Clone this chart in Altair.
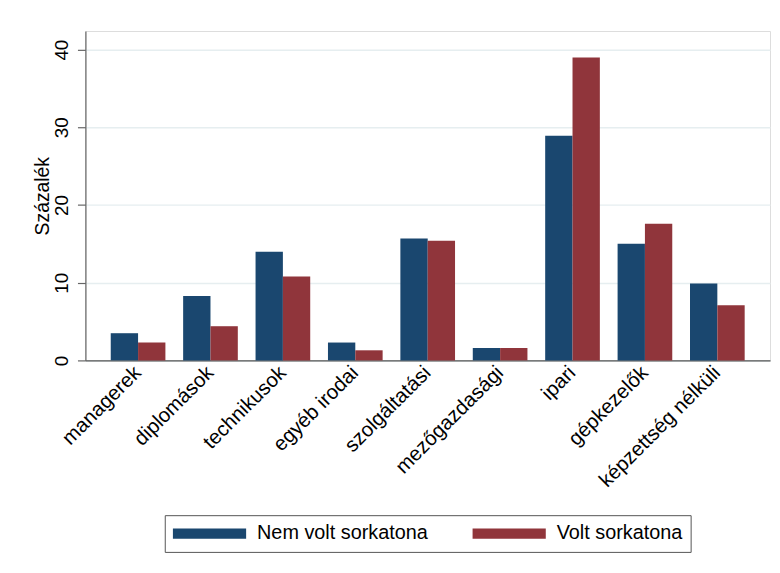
import altair as alt
import pandas as pd

categories = ["managerek", "diplomások", "technikusok", "egyéb irodai", "szolgáltatási",
              "mezőgazdasági", "ipari", "gépkezelők", "képzettség nélküli"]
groups = ["Nem volt sorkatona", "Volt sorkatona"]
nem_volt = [3.5, 8.3, 14.0, 2.3, 15.7, 1.6, 28.9, 15.0, 9.9]
volt = [2.3, 4.4, 10.8, 1.3, 15.4, 1.6, 39.0, 17.6, 7.1]
colors = ["#1a476f", "#90353b"]

rows = []
for c, a, b in zip(categories, nem_volt, volt):
    rows.append({"cat": c, "grp": groups[0], "val": a})
    rows.append({"cat": c, "grp": groups[1], "val": b})
df = pd.DataFrame(rows)

FONT = "Liberation Sans"

chart = alt.Chart(df).mark_bar().encode(
    x=alt.X("cat:N", sort=categories,
            scale=alt.Scale(paddingInner=0.245, paddingOuter=0.35),
            axis=alt.Axis(title=None, labelAngle=-45, labelAlign="right", labelBaseline="middle",
                          labelFontSize=20.5, labelFont=FONT, labelColor="#000", labelPadding=9,
                          labelLimit=400,
                          ticks=False, domainColor="#555", domainWidth=1.2, grid=False)),
    xOffset=alt.XOffset("grp:N", sort=groups, scale=alt.Scale(paddingInner=0, paddingOuter=0)),
    y=alt.Y("val:Q", scale=alt.Scale(domain=[0, 42.4], nice=False),
            axis=alt.Axis(title="Százalék", values=[0, 10, 20, 30, 40], labelAngle=270,
                          labelAlign="center", labelBaseline="bottom",
                          labelFontSize=19, labelFont=FONT, labelColor="#000", labelPadding=6,
                          tickSize=8, tickColor="#666", tickWidth=1.2,
                          domainColor="#666", domainWidth=1.2,
                          gridColor="#e6eef0", gridWidth=1.5,
                          titleFont=FONT, titleFontSize=19.5, titleFontWeight="normal",
                          titleColor="#000", titlePadding=0)),
    color=alt.Color("grp:N", sort=groups, scale=alt.Scale(domain=groups, range=colors),
                    legend=alt.Legend(title=None, orient="none", legendX=80, legendY=488,
                                      direction="horizontal",
                                      symbolType="M-1,-0.139L1,-0.139L1,0.139L-1,0.139Z",
                                      symbolSize=5476, symbolStrokeWidth=0, clipHeight=21,
                                      labelFont=FONT, labelFontSize=20, labelColor="#000",
                                      labelLimit=400,
                                      labelOffset=11, columnPadding=44, padding=8,
                                      strokeColor="#555", fillColor="#ffffff")),
).properties(
    width=690, height=332,
    autosize=alt.AutoSizeParams(type="none"),
    padding={"left": 78, "top": 21, "right": 2, "bottom": 200},
).configure_view(stroke=None).configure(background="#ffffff")

chart.save("out.html", embed_options={"renderer": "svg", "actions": False})
